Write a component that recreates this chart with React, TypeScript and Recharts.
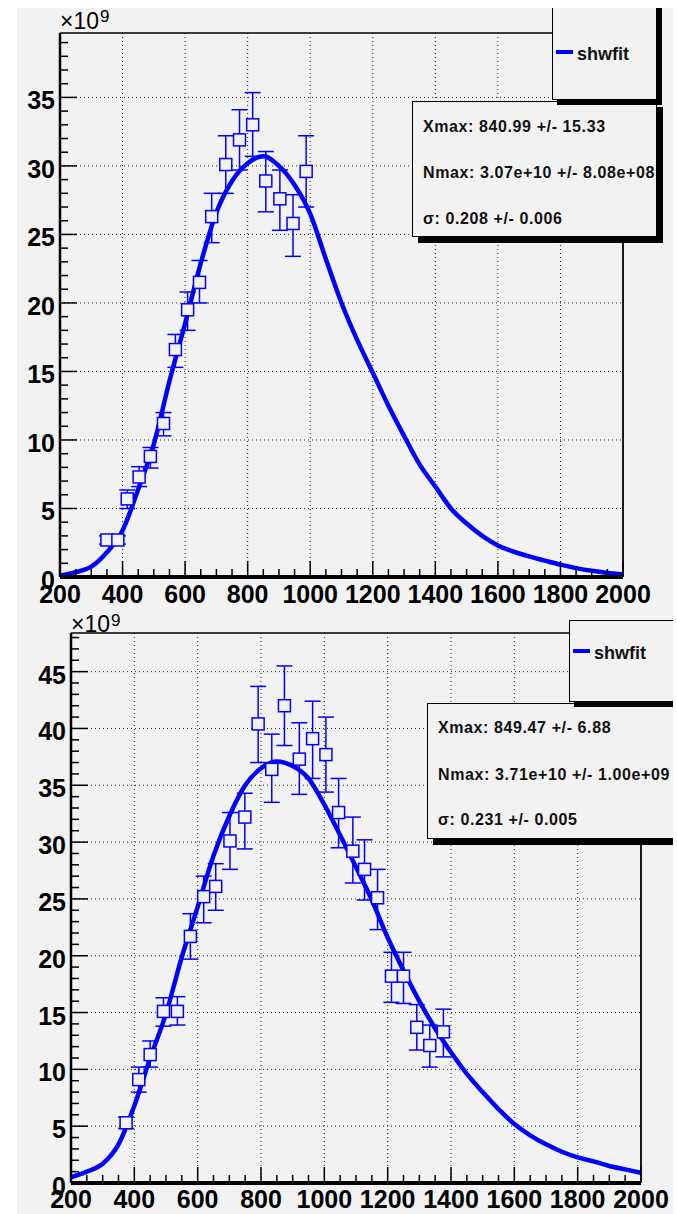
import React from "react";
import {
  CartesianGrid,
  ComposedChart,
  ErrorBar,
  Line,
  Scatter,
  XAxis,
  YAxis,
} from "recharts";

const BG = "#f2f2f2";
const BLUE = "#0000ff";
const FONT = '"Liberation Sans", Arial, Helvetica, sans-serif';

const fitX = [
  200, 250, 300, 350, 400, 450, 500, 550, 600, 650, 700, 750, 800, 850, 900,
  950, 1000, 1050, 1100, 1150, 1200, 1250, 1300, 1350, 1400, 1450, 1500, 1550,
  1600, 1650, 1700, 1750, 1800, 1850, 1900, 1950, 2000,
];
const topFit = [
  0.1, 0.35, 0.75, 1.8, 3.4, 6.4, 9.7, 14.3, 18.5, 22.9, 26.6, 28.9, 30.2,
  30.7, 30.0, 28.6, 26.5, 23.2, 20.0, 17.3, 14.9, 12.5, 10.3, 8.2, 6.6, 5.0,
  3.9, 3.0, 2.3, 1.85, 1.5, 1.2, 0.9, 0.65, 0.45, 0.3, 0.2,
];
const bottomFit = [
  0.5, 1.0, 1.7, 3.4, 6.8, 11.0, 14.9, 19.9, 24.3, 28.8, 32.3, 35.0, 36.5,
  37.1, 36.7, 35.6, 33.3, 30.6, 27.8, 24.9, 21.6, 18.7, 16.0, 13.6, 11.5, 9.6,
  8.0, 6.5, 5.2, 4.2, 3.4, 2.75, 2.25, 1.9, 1.5, 1.2, 0.9,
];

// measured points (x10^9), with lower / upper error
const topPtX = [350, 385, 415, 453, 489, 531, 569, 608, 646, 685, 730, 774, 816, 858, 903, 945, 987];
const topPtY = [2.7, 2.7, 5.7, 7.3, 8.8, 11.2, 16.6, 19.5, 21.5, 26.3, 30.1, 31.9, 33.0, 28.9, 27.6, 25.8, 29.6];
const topErrLo = [0.3, 0.3, 0.7, 0.7, 0.85, 0.9, 1.3, 1.5, 1.5, 1.9, 2.1, 2.2, 2.3, 2.25, 2.3, 2.4, 2.6];
const topErrHi = [0.3, 0.3, 0.65, 0.75, 0.65, 0.8, 1.1, 1.3, 1.6, 1.7, 2.1, 2.2, 2.35, 2.15, 2.1, 2.1, 2.6];

const botPtX = [374, 414, 450, 492, 536, 577, 619, 657, 702, 749, 791, 834, 874, 921, 963, 1005, 1045, 1090, 1127, 1168, 1212, 1250, 1292, 1333, 1376];
const botPtY = [5.3, 9.1, 11.3, 15.1, 15.1, 21.7, 25.2, 26.1, 30.1, 32.2, 40.4, 36.4, 42.0, 37.3, 39.1, 37.7, 32.6, 29.2, 27.6, 25.1, 18.2, 18.2, 13.7, 12.1, 13.3];
const botErrLo = [0.5, 1.1, 1.1, 1.3, 1.2, 2.0, 2.3, 2.1, 2.5, 2.8, 3.4, 2.9, 3.5, 3.1, 3.5, 3.3, 3.1, 2.8, 2.7, 2.8, 2.3, 2.4, 2.0, 1.9, 2.2];
const botErrHi = [0.5, 1.1, 1.2, 1.2, 1.3, 2.0, 1.8, 2.0, 2.5, 2.1, 3.3, 3.1, 3.5, 3.2, 3.3, 3.3, 3.0, 3.0, 2.6, 2.5, 2.1, 2.1, 2.0, 1.8, 2.0];

const xMajor = [200, 400, 600, 800, 1000, 1200, 1400, 1600, 1800, 2000];
const topYMajor = [0, 5, 10, 15, 20, 25, 30, 35];
const botYMajor = [0, 5, 10, 15, 20, 25, 30, 35, 40, 45];

const topStats = ["Xmax: 840.99 +/- 15.33", "Nmax: 3.07e+10 +/- 8.08e+08", "σ: 0.208 +/- 0.006"];
const botStats = ["Xmax: 849.47 +/- 6.88", "Nmax: 3.71e+10 +/- 1.00e+09", "σ: 0.231 +/- 0.005"];

const range = (a: number, b: number, step: number) => {
  const out: number[] = [];
  for (let v = a; v <= b + 1e-9; v += step) out.push(v);
  return out;
};
const xTicks = range(200, 2000, 50);

function XTick(props: any) {
  const { x, y, payload, dy } = props;
  const major = payload.value % 200 === 0;
  return (
    <g>
      <line x1={x} x2={x} y1={y} y2={y - (major ? 16 : 8)} stroke="#000" strokeWidth={1.5} />
      {major && (
        <text x={x} y={y + dy} textAnchor="middle" fontSize={25} fontWeight="bold" fontFamily={FONT} fill="#000">
          {payload.value}
        </text>
      )}
    </g>
  );
}

function YTick(props: any) {
  const { x, y, payload } = props;
  const major = payload.value % 5 === 0;
  return (
    <g>
      <line x1={x} x2={x + (major ? 17 : 8)} y1={y} y2={y} stroke="#000" strokeWidth={1.5} />
      {major && (
        <text x={x - 5} y={y + 12} textAnchor="end" fontSize={25} fontWeight="bold" fontFamily={FONT} fill="#000">
          {payload.value}
        </text>
      )}
    </g>
  );
}

const Square = (p: any) => (
  <rect x={p.cx - 6} y={p.cy - 6} width={12} height={12} fill={BG} stroke={BLUE} strokeWidth={1.5} />
);

type PanelProps = {
  top: number;
  height: number;
  frame: { top: number; right: number; bottom: number; left: number };
  yMax: number;
  yMajor: number[];
  fit: number[];
  px: number[];
  py: number[];
  lo: number[];
  hi: number[];
  xLabelDy: number;
  exp: { left: number; top: number; supTop: number };
  legend: { left: number; top: number; width: number; height: number; lineY: number; textTop: number };
  stats: { left: number; top: number; width: number; height: number; textLeft: number; rows: number[] };
  lines: string[];
};

function Panel(p: PanelProps) {
  const fitData = fitX.map((x, i) => ({ x, y: p.fit[i] }));
  const points = p.px.map((x, i) => ({ x, y: p.py[i], err: [p.lo[i], p.hi[i]] }));
  const yTicks = range(0, Math.floor(p.yMax), 1);
  const W = 656;
  // every axis takes 1px, so the margins are the frame distances minus that
  const margin = {
    top: p.frame.top - 1,
    right: p.frame.right - 1,
    bottom: p.frame.bottom - 1,
    left: p.frame.left - 1,
  };

  return (
    <div style={{ position: "absolute", left: 17, top: p.top, width: W, height: p.height, overflow: "hidden", background: BG }}>
      <ComposedChart width={W} height={p.height} data={fitData} margin={margin}>
        <CartesianGrid
          stroke="#222"
          strokeDasharray="1 3"
          verticalValues={xMajor.slice(1, -1)}
          horizontalValues={p.yMajor.slice(1)}
        />
        <XAxis
          dataKey="x"
          type="number"
          domain={[200, 2000]}
          allowDataOverflow
          ticks={xTicks}
          interval={0}
          height={1}
          tickSize={0}
          tickMargin={0}
          tickLine={false}
          axisLine={{ stroke: "#000", strokeWidth: 4 }}
          tick={(t: any) => <XTick {...t} dy={p.xLabelDy} />}
        />
        <XAxis xAxisId="top" orientation="top" type="number" domain={[200, 2000]} height={1} tick={false} tickLine={false} axisLine={{ stroke: "#000", strokeWidth: 1.3 }} />
        <YAxis
          dataKey="y"
          type="number"
          domain={[0, p.yMax]}
          allowDataOverflow
          ticks={yTicks}
          interval={0}
          width={1}
          tickSize={0}
          tickMargin={0}
          tickLine={false}
          axisLine={{ stroke: "#000", strokeWidth: 2.5 }}
          tick={(t: any) => <YTick {...t} />}
        />
        <YAxis yAxisId="right" orientation="right" type="number" domain={[0, p.yMax]} width={1} tick={false} tickLine={false} axisLine={{ stroke: "#000", strokeWidth: 1.8 }} />
        <Scatter data={points} dataKey="y" shape={Square} isAnimationActive={false}>
          <ErrorBar dataKey="err" direction="y" width={8} stroke={BLUE} strokeWidth={1.5} isAnimationActive={false} />
        </Scatter>
        <Line dataKey="y" type="monotone" stroke={BLUE} strokeWidth={4.5} dot={false} activeDot={false} isAnimationActive={false} />
      </ComposedChart>

      {/* exponent label */}
      <div style={{ position: "absolute", left: p.exp.left, top: p.exp.top, fontFamily: FONT, fontSize: 23, lineHeight: 1, color: "#000", whiteSpace: "nowrap" }}>
        ×10
      </div>
      <div style={{ position: "absolute", left: p.exp.left + 40, top: p.exp.supTop, fontFamily: FONT, fontSize: 17, lineHeight: 1, color: "#000" }}>
        9
      </div>

      {/* stats box */}
      <div
        style={{
          position: "absolute",
          left: p.stats.left,
          top: p.stats.top,
          width: p.stats.width,
          height: p.stats.height,
          boxSizing: "border-box",
          border: "1px solid #000",
          background: BG,
          boxShadow: "6px 6px 0 0 #000",
        }}
      />
      {p.lines.map((s, i) => (
        <div
          key={s}
          style={{
            position: "absolute",
            left: p.stats.textLeft,
            top: p.stats.rows[i],
            fontFamily: FONT,
            fontWeight: "bold",
            fontSize: 16,
            lineHeight: 1,
            letterSpacing: 0.6,
            color: "#111",
            whiteSpace: "nowrap",
          }}
        >
          {s}
        </div>
      ))}

      {/* legend */}
      <div
        style={{
          position: "absolute",
          left: p.legend.left,
          top: p.legend.top,
          width: p.legend.width,
          height: p.legend.height,
          boxSizing: "border-box",
          border: "1px solid #000",
          background: BG,
          boxShadow: "5px 5px 0 0 #000",
        }}
      />
      <div style={{ position: "absolute", left: p.legend.left + 4, top: p.legend.lineY - 2, width: 17, height: 4, background: BLUE }} />
      <div
        style={{
          position: "absolute",
          left: p.legend.left + 25,
          top: p.legend.textTop,
          fontFamily: FONT,
          fontWeight: "bold",
          fontSize: 18,
          lineHeight: 1,
          color: "#111",
        }}
      >
        shwfit
      </div>
    </div>
  );
}

export default function App() {
  return (
    <div style={{ position: "absolute", left: 0, top: 0, width: 677, height: 1214, background: "#fff", overflow: "hidden" }}>
      <div style={{ position: "absolute", left: 17, top: 8, width: 656, height: 1206, background: BG }} />
      <Panel
        top={8}
        height={599}
        frame={{ top: 25, right: 50, bottom: 30, left: 43 }}
        yMax={39.7}
        yMajor={topYMajor}
        fit={topFit}
        px={topPtX}
        py={topPtY}
        lo={topErrLo}
        hi={topErrHi}
        xLabelDy={26}
        exp={{ left: 43, top: 2, supTop: 0 }}
        legend={{ left: 535, top: -5, width: 105, height: 97, lineY: 44, textTop: 37 }}
        stats={{ left: 395, top: 93, width: 245, height: 136, textLeft: 406, rows: [111, 157, 202.5] }}
        lines={topStats}
      />
      <Panel
        top={612}
        height={602}
        frame={{ top: 21, right: 32, bottom: 31, left: 54 }}
        yMax={48.4}
        yMajor={botYMajor}
        fit={bottomFit}
        px={botPtX}
        py={botPtY}
        lo={botErrLo}
        hi={botErrHi}
        xLabelDy={25}
        exp={{ left: 54, top: 1, supTop: 0 }}
        legend={{ left: 552, top: 8, width: 106, height: 82, lineY: 39, textTop: 32 }}
        stats={{ left: 410, top: 91, width: 248, height: 136, textLeft: 421, rows: [108, 154.5, 200] }}
        lines={botStats}
      />
    </div>
  );
}
